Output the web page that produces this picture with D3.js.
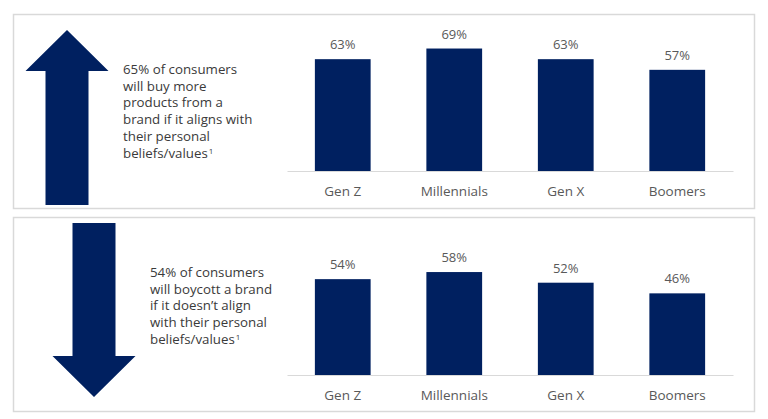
<!DOCTYPE html>
<html>
<head>
<meta charset="utf-8">
<script src="https://cdn.jsdelivr.net/npm/d3@7"></script>
<style>
  html, body { margin: 0; padding: 0; background: #fff; }
  svg { display: block; font-family: "Open Sans", "Liberation Sans", sans-serif; }
</style>
</head>
<body>
<svg id="chart" width="768" height="419"></svg>
<script>
// ---- data ----
const categories = ["Gen Z", "Millennials", "Gen X", "Boomers"];
const buyMoreValues = [63, 69, 63, 57];
const boycottValues = [54, 58, 52, 46];
const buyMoreText = ["65% of consumers", "will buy more", "products from a", "brand if it aligns with", "their personal", "beliefs/values"];
const boycottText = ["54% of consumers", "will boycott a brand", "if it doesn\u2019t align", "with their personal", "beliefs/values"];
const footnoteMark = "1";

// ---- styles ----
const navy = "#002060";
const borderColor = "#d9d9d9";
const textColor = "#3a3a3a";
const labelColor = "#595959";

const svg = d3.select("#chart");

const panels = [
  { top: 14, bottom: 208, baseline: 171, values: buyMoreValues, text: buyMoreText,
    textX: 123, textY: 74, arrow: "up", arrowCx: 67, arrowTip: 30, arrowEnd: 205 },
  { top: 217, bottom: 411, baseline: 375, values: boycottValues, text: boycottText,
    textX: 150, textY: 277, arrow: "down", arrowCx: 94, arrowTip: 397, arrowEnd: 223 }
];

const x = d3.scaleBand().domain(categories).range([287, 733]).paddingInner(0.5).paddingOuter(0.25);
const pxPerPct = 1.775;

panels.forEach(p => {
  const g = svg.append("g");
  // panel frame
  g.append("rect")
    .attr("x", 13.5).attr("y", p.top + 0.5)
    .attr("width", 741).attr("height", p.bottom - p.top)
    .attr("fill", "none").attr("stroke", borderColor).attr("stroke-width", 1.5);

  // arrow
  const headHalf = 41.5, shaftHalf = 21.5, headLen = 41;
  const dir = p.arrow === "up" ? 1 : -1;
  const cx = p.arrowCx, tip = p.arrowTip, end = p.arrowEnd;
  const headBase = tip + dir * headLen;
  const pts = [
    [cx, tip], [cx + headHalf, headBase], [cx + shaftHalf, headBase],
    [cx + shaftHalf, end], [cx - shaftHalf, end], [cx - shaftHalf, headBase],
    [cx - headHalf, headBase]
  ];
  g.append("path").attr("d", d3.line()(pts) + "Z").attr("fill", navy);

  // text
  const t = g.append("text")
    .attr("fill", textColor)
    .attr("font-size", 13.3);
  p.text.forEach((line, i) => {
    t.append("tspan").attr("x", p.textX).attr("y", p.textY + i * 16.7).text(line);
    if (i === p.text.length - 1) {
      t.append("tspan").attr("font-size", 8).attr("dx", 1).attr("dy", -4).text(footnoteMark);
    }
  });

  // bar chart
  const y = d3.scaleLinear().domain([0, 100]).range([p.baseline, p.baseline - 100 * pxPerPct]);

  g.selectAll("rect.bar").data(p.values).enter().append("rect")
    .attr("class", "bar")
    .attr("x", (d, i) => x(categories[i]))
    .attr("width", x.bandwidth())
    .attr("y", d => y(d))
    .attr("height", d => y(0) - y(d))
    .attr("fill", navy);

  g.selectAll("text.val").data(p.values).enter().append("text")
    .attr("class", "val")
    .attr("x", (d, i) => x(categories[i]) + x.bandwidth() / 2)
    .attr("y", d => y(d) - 10)
    .attr("text-anchor", "middle")
    .attr("fill", labelColor)
    .attr("font-size", 13)
    .text(d => d + "%");

  const axis = d3.axisBottom(x).tickSize(0).tickPadding(0);
  const ax = g.append("g").attr("transform", `translate(0,${p.baseline})`).call(axis);
  ax.select(".domain").attr("stroke", borderColor).attr("stroke-width", 1.2);
  ax.selectAll(".tick text")
    .attr("y", 25)
    .attr("dy", 0)
    .attr("fill", labelColor)
    .attr("font-size", 13.5)
    .attr("font-family", "Open Sans, sans-serif");
});
</script>
</body>
</html>
